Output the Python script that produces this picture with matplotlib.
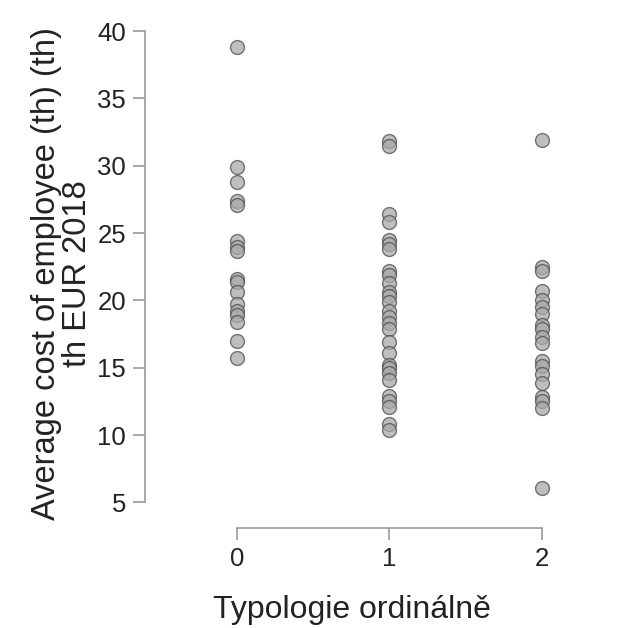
import matplotlib
matplotlib.use("Agg")
import matplotlib.pyplot as plt

# values
typ0 = [38.8, 29.9, 28.8, 27.4, 27.1, 24.4, 24.0, 23.7, 21.6, 21.4, 20.6,
        19.7, 19.2, 18.9, 18.4, 17.0, 15.7]
typ1 = [31.8, 31.5, 26.4, 25.8, 24.5, 24.2, 23.8, 22.2, 21.9, 21.3, 20.6,
        20.3, 19.9, 19.2, 18.8, 18.3, 17.9, 16.9, 16.1, 15.2, 15.0, 14.6,
        14.1, 12.9, 12.5, 12.1, 10.8, 10.4]
typ2 = [31.9, 22.5, 22.2, 20.7, 20.0, 19.5, 19.0, 18.2, 17.9, 17.3, 16.8,
        15.5, 15.1, 14.5, 13.9, 12.8, 12.5, 12.0, 6.1]
groups = [0, 1, 2]
yticks = [5, 10, 15, 20, 25, 30, 35, 40]

plt.rcParams['font.family'] = ['Liberation Sans', 'DejaVu Sans']

fig = plt.figure(figsize=(6.2, 6.28), dpi=100)
ax = fig.add_axes([0.2339, 0.1592, 0.669, 0.809])

for g, vals in zip(groups, [typ0, typ1, typ2]):
    ax.scatter([g] * len(vals), vals, s=100, facecolor='#a9a9a9',
               edgecolor='#4d4d4d', linewidth=1.0, alpha=0.75, zorder=3)

ax.set_xlim(-0.603, 2.118)
ax.set_ylim(3.10, 40.82)
ax.set_xticks(groups)
ax.set_yticks(yticks)

for side in ['top', 'right']:
    ax.spines[side].set_visible(False)
ax.spines['left'].set_bounds(5, 40)
ax.spines['bottom'].set_bounds(0, 2)
for side in ['left', 'bottom']:
    ax.spines[side].set_color('#9a9a9a')
    ax.spines[side].set_linewidth(1.2)

ax.tick_params(axis='both', length=8.6, width=1.2, color='#9a9a9a',
               labelsize=18.5, labelcolor='#222222', pad=5)

ax.set_xlabel('Typologie ordinálně', fontsize=23, color='#222222', labelpad=17)
ax.set_ylabel('Average cost of employee (th) (th)\nth EUR 2018', fontsize=23.5,
              color='#222222', labelpad=3, linespacing=1.02)

fig.savefig('out.png', dpi=100)
